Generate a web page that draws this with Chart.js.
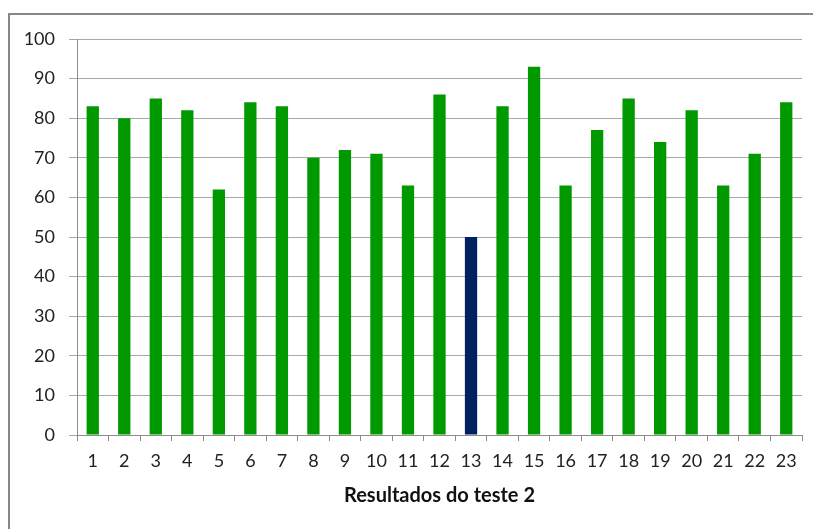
<!DOCTYPE html>
<html>
<head>
<meta charset="utf-8">
<script src="https://cdn.jsdelivr.net/npm/chart.js@4"></script>
<style>
html,body{margin:0;padding:0;background:#fff;overflow:hidden;}
#wrap{position:relative;width:813px;height:529px;}
#frame{position:absolute;left:8px;top:13px;width:900px;height:700px;border:2px solid #878787;box-sizing:border-box;}
canvas{position:absolute;left:0;top:0;}
</style>
</head>
<body>
<div id="wrap">
<div id="frame"></div>
<canvas id="c" width="813" height="529"></canvas>
</div>
<script>
const categories = ["1","2","3","4","5","6","7","8","9","10","11","12","13","14","15","16","17","18","19","20","21","22","23"];
const values = [83,80,85,82,62,84,83,70,72,71,63,86,50,83,93,63,77,85,74,82,63,71,84];
const highlightIndex = 12;
const axisTitle = "Resultados do teste 2";
const yTicks = [0,10,20,30,40,50,60,70,80,90,100];

const green = "#009900";
const navy = "#002060";
const colors = values.map((v,i)=> i===highlightIndex ? navy : green);

new Chart(document.getElementById('c'), {
  type: 'bar',
  data: {
    labels: categories,
    datasets: [{
      data: values,
      backgroundColor: colors,
      borderWidth: 0,
      barPercentage: 0.39,
      categoryPercentage: 1.0
    }]
  },
  options: {
    responsive: false,
    animation: false,
    devicePixelRatio: 1,
    layout: { padding: { left: 0, top: 39, right: 11, bottom: 0 } },
    plugins: { legend: { display: false }, tooltip: { enabled: false } },
    scales: {
      x: {
        afterFit: s => { s.height = 94; },
        grid: { display: true, drawOnChartArea: false, drawTicks: true, tickLength: 6, color: '#8c8c8c', offset: true },
        border: { display: true, color: '#8c8c8c', width: 1 },
        ticks: { color: '#222', font: { family: 'Lato', size: 18 }, padding: 9, maxRotation: 0, autoSkip: false },
        title: { display: true, text: axisTitle, color: '#111', font: { family: 'Lato', size: 20, weight: 'bold' }, padding: { top: 0, bottom: 21 } }
      },
      y: {
        min: 0, max: 100,
        afterFit: s => { s.width = 77; },
        afterBuildTicks: s => { s.ticks = yTicks.map(v => ({ value: v })); },
        grid: { color: '#a8a8a8', lineWidth: 1, tickLength: 8, drawTicks: true },
        border: { display: true, color: '#8c8c8c', width: 1 },
        ticks: { color: '#222', font: { family: 'Lato', size: 18 }, padding: 14 }
      }
    }
  }
});
</script>
</body>
</html>
